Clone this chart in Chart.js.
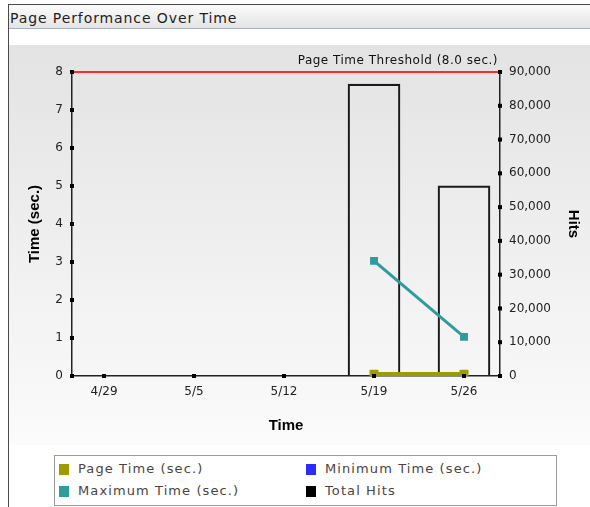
<!DOCTYPE html>
<html>
<head>
<meta charset="utf-8">
<title>Page Performance Over Time</title>
<script src="https://cdn.jsdelivr.net/npm/chart.js@4.4.1/dist/chart.umd.min.js"></script>
<style>
  body { margin: 0; width: 590px; height: 507px; position: relative; overflow: hidden; background: #fff; font-family: 'DejaVu Sans', sans-serif; }
  #frame { position: absolute; left: 8px; top: 4px; width: 600px; height: 520px; border-left: 1px solid #4a4a4a; border-top: 1px solid #4a4a4a; }
  #head { position: absolute; left: 9px; top: 5px; width: 581px; height: 23px; background: linear-gradient(#fbfbfb, #e4e4e4); border-bottom: 1px solid #a8b2be; }
  #head span { position: absolute; left: 1px; top: 0; font-size: 14px; line-height: 27px; letter-spacing: 0.9px; color: #1e1e1e; white-space: nowrap; }
  #plotbg { position: absolute; left: 9px; top: 45px; width: 581px; height: 400px; background: linear-gradient(#e3e3e3, #fbfbfb); }
  #chart { position: absolute; left: 0; top: 0; }
  #legend { position: absolute; left: 54px; top: 455px; width: 501px; height: 49px; border: 1px solid #9a9a9a; background: #fff; }
  .sw { position: absolute; width: 10px; height: 11px; }
  .lt { position: absolute; font-size: 13px; letter-spacing: 1.1px; color: #4a4444; white-space: nowrap; line-height: 16px; }
</style>
</head>
<body>
<div id="frame"></div>
<div id="head"><span>Page Performance Over Time</span></div>
<div id="plotbg"></div>
<canvas id="chart" width="590" height="507"></canvas>
<div id="legend"></div>
<script>
// data
const dates = ['4/29', '5/5', '5/12', '5/19', '5/26'];
const pageTime = [null, null, null, 0.05, 0.05];
const minTime = [null, null, null, 0.04, 0.04];
const maxTime = [null, null, null, 3.03, 1.03];
const totalHits = [null, null, null, 86400, 56300];
const threshold = 8.0;

const seriesNames = ['Page Time (sec.)', 'Minimum Time (sec.)', 'Maximum Time (sec.)', 'Total Hits'];
const seriesColors = ['#9c9c00', '#2c2cff', '#2f9c9c', '#000000'];

const toXY = arr => arr.map((v, i) => ({ x: i, y: v }));

// html legend, two columns
const legendPos = [[59, 464], [306, 464], [59, 486], [306, 486]];
seriesNames.forEach((name, i) => {
  const sw = document.createElement('div');
  sw.className = 'sw';
  sw.style.background = seriesColors[i];
  sw.style.left = legendPos[i][0] + 'px';
  sw.style.top = legendPos[i][1] + 'px';
  document.body.appendChild(sw);
  const t = document.createElement('div');
  t.className = 'lt';
  t.textContent = name;
  t.style.left = (legendPos[i][0] + 19) + 'px';
  t.style.top = (legendPos[i][1] - 3) + 'px';
  document.body.appendChild(t);
});

const tickFont = { family: 'DejaVu Sans', size: 12 };
const titleFont = { family: 'Liberation Sans', size: 15, weight: 'bold' };

const markers = {
  id: 'markers',
  afterDraw(chart) {
    const ctx = chart.ctx;
    const { x, y, hits } = chart.scales;
    const area = chart.chartArea;
    ctx.save();
    // threshold line + label
    const ty = y.getPixelForValue(threshold);
    ctx.strokeStyle = '#ff2a2a';
    ctx.lineWidth = 2;
    ctx.beginPath();
    ctx.moveTo(area.left, ty);
    ctx.lineTo(area.right, ty);
    ctx.stroke();
    ctx.fillStyle = '#111';
    ctx.font = '12px "DejaVu Sans"';
    ctx.letterSpacing = '0.5px';
    ctx.textAlign = 'right';
    ctx.textBaseline = 'middle';
    ctx.fillText('Page Time Threshold (' + threshold.toFixed(1) + ' sec.)', area.right - 2, ty - 11);
    // little square tick marks
    ctx.fillStyle = '#000';
    y.ticks.forEach(t => ctx.fillRect(area.left - 2, y.getPixelForValue(t.value) - 2, 4, 4));
    hits.ticks.forEach(t => ctx.fillRect(area.right - 2, hits.getPixelForValue(t.value) - 2, 4, 4));
    x.ticks.forEach(t => ctx.fillRect(x.getPixelForValue(t.value) - 2, area.bottom - 2, 4, 4));
    ctx.restore();
  }
};

new Chart(document.getElementById('chart'), {
  data: {
    datasets: [
      {
        type: 'bar',
        label: seriesNames[3],
        data: toXY(totalHits),
        yAxisID: 'hits',
        backgroundColor: 'rgba(0,0,0,0)',
        borderColor: '#1a1a1a',
        borderWidth: 1.5,
        barThickness: 52,
        order: 10
      },
      {
        type: 'line',
        label: seriesNames[1],
        data: toXY(minTime),
        yAxisID: 'y',
        borderColor: seriesColors[1],
        backgroundColor: seriesColors[1],
        borderWidth: 3,
        pointStyle: 'rect',
        pointRadius: 3,
        order: 3
      },
      {
        type: 'line',
        label: seriesNames[0],
        data: toXY(pageTime),
        yAxisID: 'y',
        borderColor: seriesColors[0],
        backgroundColor: seriesColors[0],
        borderWidth: 4,
        pointStyle: 'rect',
        pointRadius: 3.5,
        order: 2
      },
      {
        type: 'line',
        label: seriesNames[2],
        data: toXY(maxTime),
        yAxisID: 'y',
        borderColor: seriesColors[2],
        backgroundColor: seriesColors[2],
        borderWidth: 3,
        pointStyle: 'rect',
        pointRadius: 3.5,
        order: 1
      }
    ]
  },
  options: {
    responsive: false,
    animation: false,
    layout: { padding: { top: 72, left: 0, right: 0, bottom: 0 } },
    plugins: { legend: { display: false }, tooltip: { enabled: false } },
    scales: {
      x: {
        type: 'linear',
        offset: false,
        min: -0.356,
        max: 4.4,
        afterBuildTicks: s => { s.ticks = dates.map((d, i) => ({ value: i })); },
        afterFit: s => { s.height = 131; },
        grid: { offset: false, drawOnChartArea: false, drawTicks: false },
        border: { color: '#222', width: 1.5 },
        ticks: { font: tickFont, color: '#222', padding: 9, maxRotation: 0, callback: v => dates[v] },
        title: { display: true, text: 'Time', font: titleFont, color: '#000', padding: { top: 0, bottom: 72 } }
      },
      y: {
        position: 'left',
        min: 0,
        max: 8,
        afterFit: s => { s.width = 72; },
        grid: { drawOnChartArea: false, drawTicks: false },
        border: { color: '#222', width: 1.5 },
        ticks: { stepSize: 1, font: tickFont, color: '#222', padding: 9 },
        title: { display: true, text: 'Time (sec.)', font: titleFont, color: '#000', padding: { top: 26, bottom: 0 } }
      },
      hits: {
        position: 'right',
        min: 0,
        max: 90000,
        afterFit: s => { s.width = 90; },
        grid: { drawOnChartArea: false, drawTicks: false },
        border: { color: '#222', width: 1.5 },
        ticks: { stepSize: 10000, font: tickFont, color: '#222', padding: 9, callback: v => v.toLocaleString('en-US') },
        title: { display: true, text: 'Hits', font: titleFont, color: '#000', padding: { top: 8, bottom: 0 } }
      }
    }
  },
  plugins: [markers]
});
</script>
</body>
</html>
